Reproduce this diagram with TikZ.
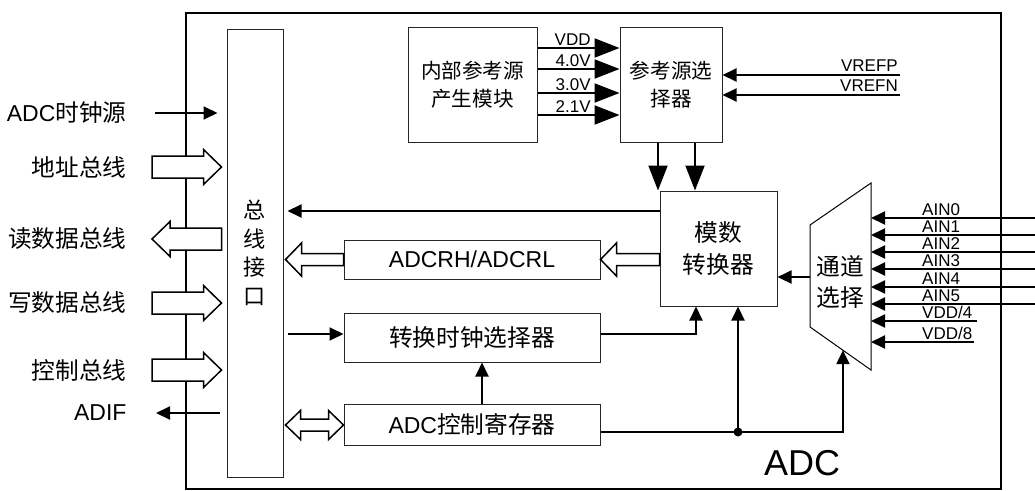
\documentclass[tikz,border=0pt]{standalone}
\usepackage{fontspec}
\setmainfont{Liberation Sans}
\newfontfamily\cjk[Scale=1.03]{Noto Sans CJK SC}
\usetikzlibrary{arrows.meta,calc}

\begin{document}
\begin{tikzpicture}[x=1pt,y=-1pt,
	box/.style={draw=black!85,line width=1pt,inner sep=0pt,align=center},
	lat/.style={font=\fontsize{23}{28}\selectfont},
	zh/.style={font=\cjk\fontsize{23}{28}\selectfont},
	lab/.style={font=\fontsize{17}{20}\selectfont,inner sep=0pt},
	bigtip/.style={line width=2pt,-{Triangle[length=25pt,width=19pt]}},
	smalltip/.style={line width=2pt,-{Triangle[length=14pt,width=13pt]}},
	fat/.style n args={3}{line width=1.5pt,fill=white,to path={
		let \p1=(\tikztostart), \p2=(\tikztotarget), \n1={ifthenelse(\x2>\x1,1,-1)} in
		(\x1,\y1+#1) -- (\x2-\n1*#3,\y1+#1) -- (\x2-\n1*#3,\y1+#2) -- (\x2,\y1)
		-- (\x2-\n1*#3,\y1-#2) -- (\x2-\n1*#3,\y1-#1) -- (\x1,\y1-#1) -- cycle}},
	fatboth/.style n args={3}{line width=1.5pt,fill=white,to path={
		let \p1=(\tikztostart), \p2=(\tikztotarget), \n1={ifthenelse(\x2>\x1,1,-1)} in
		(\x1,\y1) -- (\x1+\n1*#3,\y1+#2) -- (\x1+\n1*#3,\y1+#1) -- (\x2-\n1*#3,\y1+#1)
		-- (\x2-\n1*#3,\y1+#2) -- (\x2,\y1) -- (\x2-\n1*#3,\y1-#2) -- (\x2-\n1*#3,\y1-#1)
		-- (\x1+\n1*#3,\y1-#1) -- (\x1+\n1*#3,\y1-#2) -- cycle}},
]
	\useasboundingbox (0,0) rectangle (1035,490);

	% ADC frame
	\draw[line width=2pt] (186,12.7) rectangle (1001,489);
	\node[font=\fontsize{36}{40}\selectfont] (adclab) at (802,463) {ADC};

	% blocks
	\node[box,minimum width=56,minimum height=448,font=\cjk\fontsize{21.5}{28.5}\selectfont] (bus) at (255,253) {总\\线\\接\\口};
	\node[box,minimum width=129,minimum height=115,font=\cjk\fontsize{20}{28}\selectfont] (refgen) at (472.5,84.5) {内部参考源\\产生模块};
	\node[box,minimum width=102,minimum height=115,font=\cjk\fontsize{20}{28}\selectfont] (refsel) at (671,84.5) {参考源选\\择器};
	\node[box,minimum width=117,minimum height=115,font=\cjk\fontsize{23}{32}\selectfont] (adconv) at (718.5,248.5) {模数\\转换器};
	\node[box,lat,minimum width=256,minimum height=39] (adcr) at (472,259.5) {ADCRH/ADCRL};
	\node[box,zh,minimum width=256,minimum height=49] (clksel) at (472,337.5) {转换时钟选择器};
	\node[box,lat,minimum width=256,minimum height=41] (ctrl) at (472,424.5) {ADC{\cjk 控制寄存器}};

	% channel mux
	\coordinate (mux-tl) at (810,225);
	\coordinate (mux-tr) at (871,183);
	\coordinate (mux-br) at (871,370);
	\coordinate (mux-bl) at (810,327);
	\draw[line width=1pt] (mux-tl) -- (mux-tr) -- (mux-br) -- (mux-bl) -- cycle;
	\node[font=\cjk\fontsize{23}{31}\selectfont,align=center] (muxtxt) at (840,282) {通道\\选择};
	\coordinate (muxout) at ($(mux-tl)!0.51!(mux-bl)$);
	\coordinate (muxsel) at ($(mux-bl)!0.54!(mux-br)$);

	% reference voltages
	\foreach \y/\v in {48/VDD,69/4.0V,93/3.0V,115/2.1V}
		\draw[bigtip] (refgen.east |- 0,\y) -- (refsel.west |- 0,\y)
			node[lab,pos=0.66,anchor=base east,yshift=3pt] (ref\y) {\v};
	\coordinate (vrefp) at (900,75);
	\coordinate (vrefn) at (900,95);
	\draw[smalltip] (vrefp) -- (refsel.east |- vrefp);
	\draw[smalltip] (vrefn) -- (refsel.east |- vrefn);
	\node[lab,anchor=base east] (vpl) at ($(vrefp)+(-2,-4)$) {VREFP};
	\node[lab,anchor=base east] (vnl) at ($(vrefn)+(-2,-4)$) {VREFN};
	\foreach \x in {658,695}
		\draw[bigtip] (refsel.south -| \x,0) -- (adconv.north -| \x,0);

	% analog inputs
	\foreach \y/\t/\xe [count=\i] in {218/AIN0/1035,235/AIN1/1035,252/AIN2/1035,269/AIN3/1035,287/AIN4/1035,304/AIN5/1035,321/{VDD/4}/977,342/{VDD/8}/974}{
		\coordinate (in\i) at (\xe,\y);
		\draw[smalltip] (in\i) -- (in\i -| mux-tr);
		\node[lab,anchor=base west] (inl\i) at (922,\y-2.5) {\t};
	}
	\draw[smalltip] (muxout) -- (adconv.east |- muxout);

	% inner connections
	\draw[smalltip,shorten >=4pt] (adconv.west |- 0,211) -- (bus.east |- 0,211);
	\draw[fat={6}{16.5}{16}] (adconv.west |- adcr) to (adcr.east);
	\draw[fat={6}{16.5}{16}] (adcr.west) to ($(bus.east |- adcr)+(2,0)$);
	\draw[smalltip,shorten <=4pt] (bus.east |- 0,334) -- (clksel.west |- 0,334);
	\draw[smalltip] (clksel.east |- 0,334) -| (adconv.south -| 696,0);
	\draw[smalltip] (ctrl.north -| 482,0) -- (clksel.south -| 482,0);
	\draw[fatboth={6}{14.5}{15}] ($(bus.east |- 0,425)+(2,0)$) to (ctrl.west |- 0,425);
	\coordinate (junc) at (738,432);
	\draw[line width=2pt] (ctrl.east |- junc) -- (junc);
	\draw[smalltip] (junc) -- (adconv.south -| junc);
	\draw[smalltip] (junc) -| (muxsel);
	\fill (junc) circle (4.5);

	% system bus side
	\node[zh,anchor=east] (clksrc) at (130,113) {\fontsize{23}{28}\selectfont\rmfamily ADC\cjk 时钟源};
	\coordinate (clkin) at (155,113);
	\draw[smalltip,shorten >=9pt] (clkin) -- (bus.west |- clkin);
	\node[zh,anchor=east] (addrbus) at (130,167) {地址总线};
	\node[zh,anchor=east] (rdbus) at (130,239) {读数据总线};
	\node[zh,anchor=east] (wrbus) at (130,303) {写数据总线};
	\node[zh,anchor=east] (ctlbus) at (130,370) {控制总线};
	\node[lat,anchor=east] (adif) at (130,413) {ADIF};
	\coordinate (addrin) at (152,167);
	\coordinate (rdout) at (152,239);
	\coordinate (wrin) at (152,303);
	\coordinate (ctlin) at (152,370);
	\coordinate (adifout) at (156,413);
	\draw[fat={11}{17.5}{18}] (addrin) to ($(bus.west |- addrin)+(-5,0)$);
	\draw[fat={11}{17.5}{18}] ($(bus.west |- rdout)+(-5,0)$) to (rdout);
	\draw[fat={11}{17.5}{18}] (wrin) to ($(bus.west |- wrin)+(-5,0)$);
	\draw[fat={11}{17.5}{18}] (ctlin) to ($(bus.west |- ctlin)+(-5,0)$);
	\draw[smalltip,shorten <=7pt] (bus.west |- adifout) -- (adifout);
\end{tikzpicture}
\end{document}
